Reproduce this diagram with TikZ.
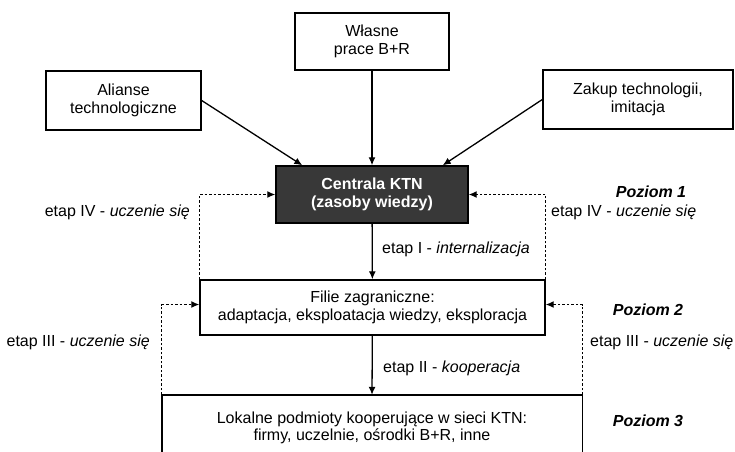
\documentclass[tikz,border=0pt]{standalone}
\usepackage{fontspec}
\setmainfont{Liberation Sans}
\usepackage{tikz}
\usetikzlibrary{positioning}
\usetikzlibrary{arrows.meta}

\newcommand{\txt}{\fontsize{16}{17.5}\selectfont}

\tikzset{
  box/.style={draw, line width=1.4pt, align=center, inner sep=2pt},
  flow/.style={line width=1.3pt, -{Latex[length=8pt,width=7pt]}},
  back/.style={line width=1.3pt, dash pattern=on 2.5pt off 2pt, -{Latex[length=8pt,width=7pt]}},
  lbl/.style={inner sep=0pt},
  level/.style={inner sep=0pt, font=\txt\bfseries\itshape}
}

\begin{document}
\begin{tikzpicture}[x=1pt, y=-1pt, font=\txt]
\clip (0,0) rectangle (735,451);

% boxes
\node [box, minimum width=154pt, minimum height=57pt] (wlasne) at (372,41.5) {Własne\\prace B+R};
\node [box, minimum width=155pt, minimum height=59pt] (alianse) at (123.5,100.5) {Alianse\\technologiczne};
\node [box, minimum width=190pt, minimum height=59pt] (zakup) at (638,99.5) {Zakup technologii,\\imitacja};
\node [box, fill=black!78, text=white, font=\txt\bfseries, minimum width=192pt, minimum height=57pt] (centrala) at (372,194.5) {Centrala KTN\\(zasoby wiedzy)};
\node [box, minimum width=345pt, minimum height=55pt] (filie) at (372.5,307.5) {Filie zagraniczne:\\adaptacja, eksploatacja wiedzy, eksploracja};
\node [minimum width=420pt, minimum height=66pt, align=center, inner sep=2pt] (lokalne) at (372,428) {Lokalne podmioty kooperujące w sieci KTN:\\firmy, uczelnie, ośrodki B+R, inne};
\draw [line width=1.4pt] (lokalne.south west) -- (lokalne.north west) -- (lokalne.north east) -- (lokalne.south east);

% inputs
\draw [flow] (alianse.east) -- ([xshift=27pt]centrala.north west);
\draw [flow] (wlasne) -- (centrala);
\draw [flow] (zakup.west) -- ([xshift=-26pt]centrala.north east);

% stages
\draw [flow] (centrala) -- (filie);
\draw [flow] (filie) -- (lokalne.north);

% learning loops
\draw [back] (filie.north west) -- (filie.north west |- centrala.west) -- (centrala.west);
\draw [back] (filie.north east) -- (filie.north east |- centrala.east) -- (centrala.east);
\draw [back] (lokalne.north west) -- ([yshift=3pt]lokalne.north west |- filie.west) -- ([yshift=3pt]filie.west);
\draw [back] (lokalne.north east) -- ([yshift=3pt]lokalne.north east |- filie.east) -- ([yshift=3pt]filie.east);

% labels
\node [lbl, anchor=east] (ivl) at (190,212) {etap IV - \textit{uczenie się}};
\node [lbl, anchor=west] (ivr) at (551,212) {etap IV - \textit{uczenie się}};
\node [lbl, anchor=west] (i) at (382,249) {etap I - \textit{internalizacja}};
\node [lbl, anchor=east] (iiil) at (150,342) {etap III - \textit{uczenie się}};
\node [lbl, anchor=west] (iiir) at (590,342) {etap III - \textit{uczenie się}};
\node [lbl, anchor=west] (ii) at (383,368) {etap II - \textit{kooperacja}};

\node [level] (p1) at (651,192) {Poziom 1};
\node [level] (p2) at (648,310) {Poziom 2};
\node [level] (p3) at (648,421) {Poziom 3};
\end{tikzpicture}
\end{document}
